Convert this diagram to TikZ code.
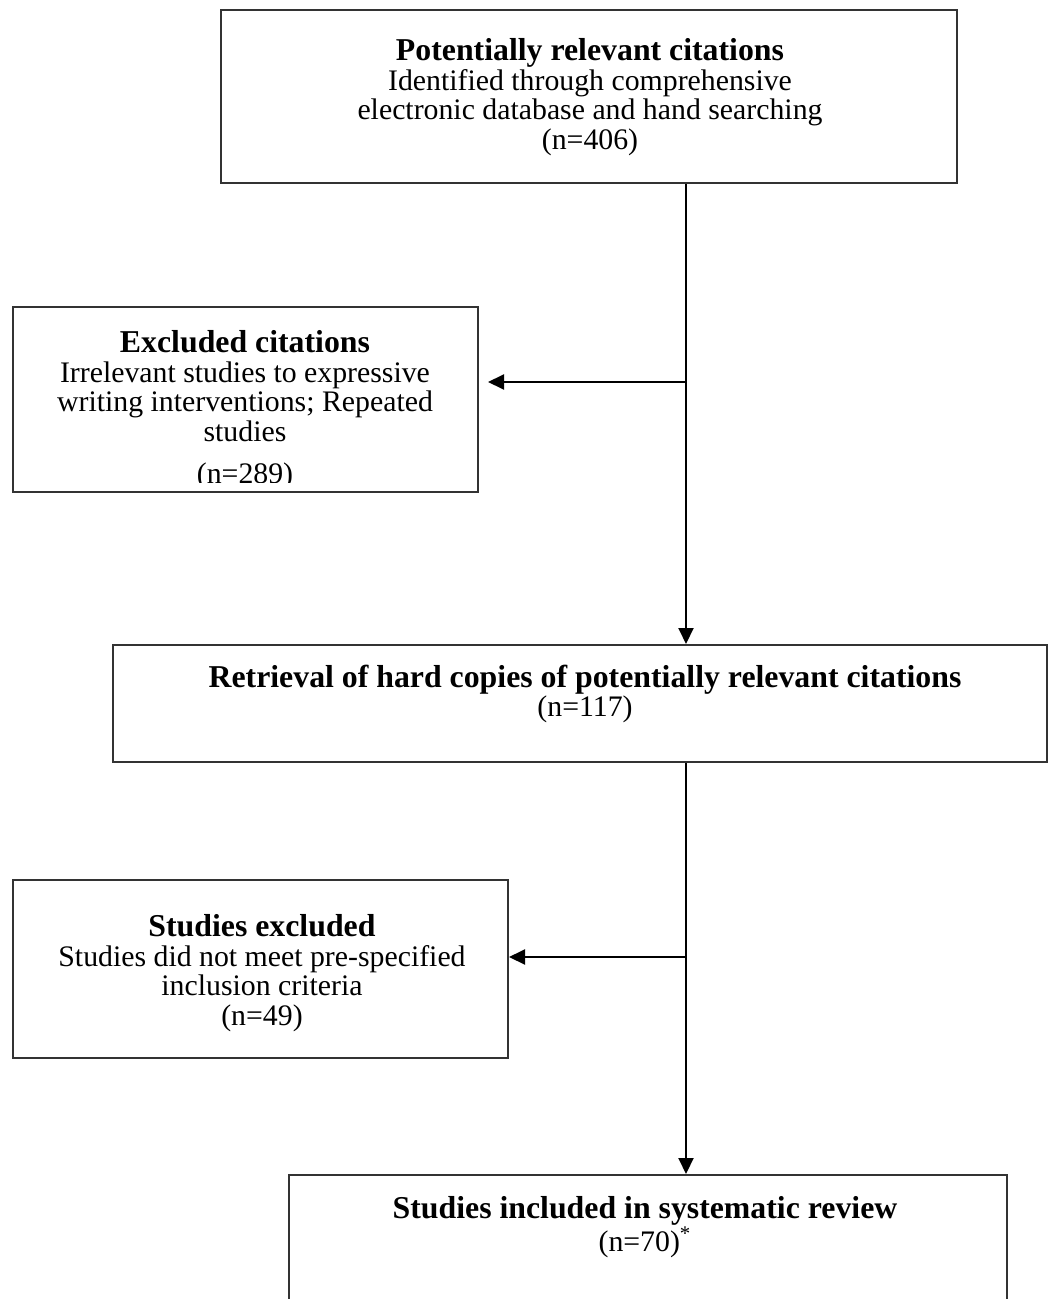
\documentclass[tikz,border=0pt]{standalone}
\usepackage{fontspec}
\setmainfont{Liberation Serif}
\usetikzlibrary{arrows.meta}
\newcommand{\flowhead}[1]{{\fontsize{15.9}{17}\selectfont\bfseries #1}}
\begin{document}
\begin{tikzpicture}[x=0.5pt,y=-0.5pt,
            box/.style={draw=black!80,line width=1pt,inner sep=0pt},
            txt/.style={align=center,inner sep=0pt,font=\fontsize{14.9}{14.8}\selectfont},
            arr/.style={line width=1pt,-{Triangle[length=8pt,width=7.5pt]}}]
            \useasboundingbox (0,0) rectangle (1058,1299);

            \node[box,minimum width=368pt,minimum height=86.5pt] (cit) at (589,96.5) {};
            \node[box,minimum width=232.5pt,minimum height=92.5pt] (exc) at (245.5,399.5) {};
            \node[box,minimum width=467pt,minimum height=58.5pt] (ret) at (580,703.5) {};
            \node[box,minimum width=247.5pt,minimum height=89pt] (sex) at (260.5,969) {};
            \node[box,minimum width=359pt,minimum height=140pt] (inc) at (648,1315) {};

            \node[txt] (citt) at (590,97) {\flowhead{Potentially relevant citations}\\Identified through comprehensive\\electronic database and hand searching\\(n=406)};
            \begin{scope}
                \clip (exc.north west) rectangle ([yshift=5.5pt]exc.south east);
                \node[txt] (exct) at (245,410) {\flowhead{Excluded citations}\\Irrelevant studies to expressive\\writing interventions; Repeated\\studies\\[6pt](n=289)};
            \end{scope}
            \node[txt] (rett) at (585,694) {\flowhead{Retrieval of hard copies of potentially relevant citations}\\(n=117)};
            \node[txt] (sext) at (262,973) {\flowhead{Studies excluded}\\Studies did not meet pre-specified\\inclusion criteria\\(n=49)};
            \node[txt] (inct) at (645,1227) {\flowhead{Studies included in systematic review}\\(n=70)\textsuperscript{*}};

            \coordinate (s1) at (686,382);
            \coordinate (s2) at (686,957);

            \draw[arr] (cit.south -| s1) -- (ret.north -| s1);
            \draw[arr] (s1) -- ([xshift=4.5pt]exc.east |- s1);
            \draw[arr] (ret.south -| s2) -- (inc.north -| s2);
            \draw[arr] (s2) -- (sex.east |- s2);
        \end{tikzpicture}
\end{document}
